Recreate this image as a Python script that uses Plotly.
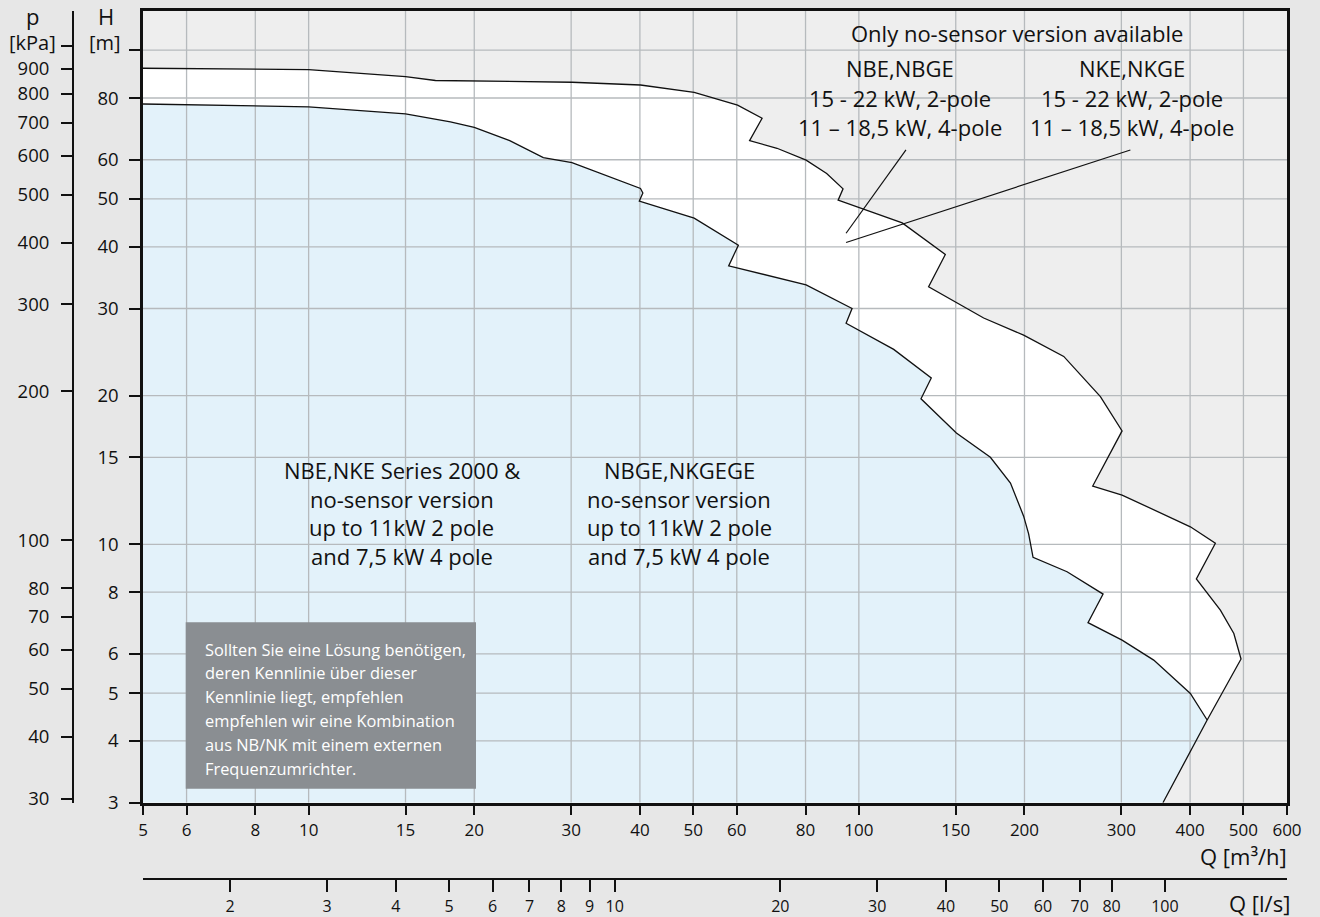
import plotly.graph_objects as go
import math

# ---------------- data ----------------
Q_RANGE = [5, 600]          # m3/h
H_RANGE = [3, 120]          # m
KPA_PER_M = 9.81
M3H_PER_LS = 3.6

Q_TICKS = [5, 6, 8, 10, 15, 20, 30, 40, 50, 60, 80, 100, 150, 200, 300, 400, 500, 600]
H_TICKS = [3, 4, 5, 6, 8, 10, 15, 20, 30, 40, 50, 60, 80, 100]
H_TICK_TEXT = ["3", "4", "5", "6", "8", "10", "15", "20", "30", "40", "50", "60", "80", ""]
P_TICKS = [30, 40, 50, 60, 70, 80, 100, 200, 300, 400, 500, 600, 700, 800, 900, 1000]
P_TICK_TEXT = ["30", "40", "50", "60", "70", "80", "100", "200", "300", "400", "500",
               "600", "700", "800", "900", ""]
QLS_TICKS = [2, 3, 4, 5, 6, 7, 8, 9, 10, 20, 30, 40, 50, 60, 70, 80, 100]
GRID_Q = [6, 8, 10, 15, 20, 30, 40, 50, 60, 80, 100, 150, 200, 300, 400, 500]
GRID_H = [4, 5, 6, 8, 10, 15, 20, 30, 40, 50, 60, 80, 100]

# outer envelope (NBE/NKE larger motors), ends at its right tip
outer_q = [5.0, 10.0, 15.0, 17.0, 30.1, 40.1, 50.2, 60.2, 66.7, 63.3, 71.0, 80.2, 87.4,
           93.6, 91.7, 119.9, 143.6, 133.9, 168.6, 199.3, 235.7, 274.8, 300.9, 266.1,
           300.9, 400.4, 444.6, 410.6, 454.0, 480.3, 495.0]
outer_h = [91.9, 91.3, 88.4, 86.8, 86.1, 85.0, 82.1, 77.4, 72.8, 65.6, 63.3, 59.9, 56.3,
           52.4, 49.7, 44.7, 38.6, 33.2, 28.7, 26.5, 24.0, 19.9, 16.96, 13.12,
           12.58, 10.85, 10.05, 8.51, 7.36, 6.60, 5.86]

# inner envelope (Series 2000 range), ends where it meets the right edge line
inner_q = [5.0, 10.0, 15.0, 18.1, 20.0, 23.2, 26.7, 30.1, 40.1, 40.5, 39.9, 50.2, 60.4,
           58.0, 80.2, 97.2, 94.8, 100.0, 115.7, 135.4, 129.7, 150.4, 173.4, 188.6,
           199.3, 203.5, 207.3, 239.0, 277.9, 260.9, 300.9, 343.5, 400.4, 429.6]
inner_h = [77.8, 76.8, 74.3, 71.6, 69.8, 65.6, 60.6, 59.2, 52.5, 51.4, 49.5, 45.7, 40.3,
           36.6, 33.5, 30.0, 28.0, 27.1, 24.8, 21.7, 19.7, 16.8, 15.0, 13.3,
           11.4, 10.5, 9.41, 8.80, 7.93, 6.94, 6.40, 5.83, 4.99, 4.41]

# straight right edge: outer tip -> meeting point -> bottom of chart
edge_q = [495.0, 429.6, 357.0]
edge_h = [5.86, 4.41, 3.0]

# leader lines of the top labels
lead_nbe_q = [121.8, 94.8]
lead_nbe_h = [62.8, 42.6]
lead_nke_q = [311.5, 94.8]
lead_nke_h = [62.8, 40.8]

TOP_TITLE = "Only no-sensor version available"
NBE_LINES = ["NBE,NBGE", "15 - 22 kW, 2-pole", "11 – 18,5 kW, 4-pole"]
NKE_LINES = ["NKE,NKGE", "15 - 22 kW, 2-pole", "11 – 18,5 kW, 4-pole"]
LEFT_LINES = ["NBE,NKE Series 2000 &", "no-sensor version", "up to 11kW 2 pole", "and 7,5 kW 4 pole"]
RIGHT_LINES = ["NBGE,NKGEGE", "no-sensor version", "up to 11kW 2 pole", "and 7,5 kW 4 pole"]
BOX_LINES = ["Sollten Sie eine Lösung benötigen,", "deren Kennlinie über dieser",
             "Kennlinie liegt, empfehlen", "empfehlen wir eine Kombination",
             "aus NB/NK mit einem externen", "Frequenzumrichter."]

# ---------------- styling ----------------
FONT = "Open Sans"
BLACK = "#111111"
GRID = "#b6babd"
BLUE = "#e3f2fa"
PAPER = "#e7e7e7"
PLOTBG = "#eeeeee"
BOXC = "#8a8e92"

W, H = 1320, 917
ML, MR, MT, MB = 73, 33, 11, 38
PW, PH = W - ML - MR, H - MT - MB
X0_PX, YB_PX = 143, 802.7        # main plot left / bottom in pixels


def paper(px, py):
    return (px - ML) / PW, (H - MB - py) / PH


xdom0 = paper(X0_PX, 0)[0]
ydom0 = paper(0, YB_PX)[1]

fig = go.Figure()

# filled regions
white_q = outer_q + edge_q[1:] + [Q_RANGE[0]]
white_h = outer_h + edge_h[1:] + [H_RANGE[0]]
fig.add_trace(go.Scatter(x=white_q, y=white_h, fill="toself", fillcolor="#ffffff",
                         mode="none", hoverinfo="skip", showlegend=False))
blue_q = inner_q + edge_q[2:] + [Q_RANGE[0]]
blue_h = inner_h + edge_h[2:] + [H_RANGE[0]]
fig.add_trace(go.Scatter(x=blue_q, y=blue_h, fill="toself", fillcolor=BLUE,
                         mode="none", hoverinfo="skip", showlegend=False))

# grid drawn above the fills
gx, gy = [], []
for q in GRID_Q:
    gx += [q, q, None]
    gy += [H_RANGE[0], H_RANGE[1], None]
for h in GRID_H:
    gx += [Q_RANGE[0], Q_RANGE[1], None]
    gy += [h, h, None]
fig.add_trace(go.Scatter(x=gx, y=gy, mode="lines", line=dict(color=GRID, width=1.3),
                         hoverinfo="skip", showlegend=False))

# curves
fig.add_trace(go.Scatter(x=outer_q + edge_q[1:], y=outer_h + edge_h[1:], mode="lines",
                         line=dict(color=BLACK, width=1.3), hoverinfo="skip", showlegend=False))
fig.add_trace(go.Scatter(x=inner_q, y=inner_h, mode="lines",
                         line=dict(color=BLACK, width=1.3), hoverinfo="skip", showlegend=False))
for lq, lh in [(lead_nbe_q, lead_nbe_h), (lead_nke_q, lead_nke_h)]:
    fig.add_trace(go.Scatter(x=lq, y=lh, mode="lines", line=dict(color=BLACK, width=1.2),
                             hoverinfo="skip", showlegend=False))

# invisible trace to activate the secondary (l/s, kPa) axes
fig.add_trace(go.Scatter(x=[Q_RANGE[0] / M3H_PER_LS, Q_RANGE[1] / M3H_PER_LS],
                         y=[H_RANGE[0] * KPA_PER_M, H_RANGE[1] * KPA_PER_M],
                         xaxis="x2", yaxis="y2", mode="markers",
                         marker=dict(opacity=0, size=1), hoverinfo="skip", showlegend=False))

tickfont_x = dict(family=FONT, size=17, color=BLACK)
tickfont_ls = dict(family=FONT, size=16, color=BLACK)
tickfont_y = dict(family=FONT, size=18.5, color=BLACK)

fig.update_layout(
    width=W, height=H,
    margin=dict(l=ML, r=MR, t=MT, b=MB, autoexpand=False),
    paper_bgcolor=PAPER, plot_bgcolor=PLOTBG,
    showlegend=False,
    xaxis=dict(type="log", range=[math.log10(Q_RANGE[0]), math.log10(Q_RANGE[1])],
               domain=[xdom0, 1], anchor="y",
               tickvals=Q_TICKS, ticktext=[str(v) for v in Q_TICKS],
               ticks="outside", ticklen=10, tickwidth=1.5, tickcolor=BLACK,
               showgrid=False, zeroline=False, showline=True, linecolor=BLACK,
               linewidth=2.5, mirror=True, tickfont=tickfont_x, ticklabelstandoff=0),
    yaxis=dict(type="log", range=[math.log10(H_RANGE[0]), math.log10(H_RANGE[1])],
               domain=[ydom0, 1], anchor="x",
               tickvals=H_TICKS, ticktext=H_TICK_TEXT,
               ticks="outside", ticklen=11, tickwidth=1.5, tickcolor=BLACK,
               showgrid=False, zeroline=False, showline=True, linecolor=BLACK,
               linewidth=2.5, mirror=True, tickfont=tickfont_y, ticklabelstandoff=7),
    xaxis2=dict(type="log", overlaying="x", anchor="free", position=0, side="bottom",
                range=[math.log10(Q_RANGE[0] / M3H_PER_LS), math.log10(Q_RANGE[1] / M3H_PER_LS)],
                tickvals=QLS_TICKS, ticktext=[str(v) for v in QLS_TICKS],
                ticks="outside", ticklen=12, tickwidth=1.5, tickcolor=BLACK,
                showgrid=False, zeroline=False, showline=True, linecolor=BLACK,
                linewidth=2, tickfont=tickfont_ls, ticklabelstandoff=1),
    yaxis2=dict(type="log", overlaying="y", anchor="free", position=0, side="left",
                range=[math.log10(H_RANGE[0] * KPA_PER_M), math.log10(H_RANGE[1] * KPA_PER_M)],
                tickvals=P_TICKS, ticktext=P_TICK_TEXT,
                ticks="outside", ticklen=11, tickwidth=1.5, tickcolor=BLACK,
                showgrid=False, zeroline=False, showline=True, linecolor=BLACK,
                linewidth=2, tickfont=tickfont_y, ticklabelstandoff=8),
)

# grey info box
bx0, by0 = paper(185.7, 788.7)
bx1, by1 = paper(476, 622.3)
fig.add_shape(type="rect", xref="paper", yref="paper", x0=bx0, y0=by0, x1=bx1, y1=by1,
              fillcolor=BOXC, line=dict(width=0), layer="above")

annos = []


def txt(text, px, py, size, xanchor="center", color=BLACK):
    x, y = paper(px, py)
    annos.append(dict(text=text, x=x, y=y, xref="paper", yref="paper", showarrow=False,
                      xanchor=xanchor, yanchor="middle",
                      font=dict(family=FONT, size=size, color=color)))


txt(TOP_TITLE, 1016.5, 32.7, 22)
for i, line in enumerate(NBE_LINES):
    txt(line, 900, 68 + 29.5 * i, 22)
for i, line in enumerate(NKE_LINES):
    txt(line, 1132, 68 + 29.5 * i, 22)
for i, line in enumerate(LEFT_LINES):
    txt(line, 402, 470 + 28.5 * i, 22)
for i, line in enumerate(RIGHT_LINES):
    txt(line, 679, 470 + 28.5 * i, 22)
for i, line in enumerate(BOX_LINES):
    txt(line, 202.7, 649 + 23.9 * i, 16.4, xanchor="left", color="#ffffff")

txt("p", 32.5, 16, 22)
txt("[kPa]", 32, 43, 20)
txt("H", 105.7, 16, 22)
txt("[m]", 105, 43, 20)
txt("Q [m³/h]", 1289, 856, 22, xanchor="right")
txt("Q [l/s]", 1292, 903, 22, xanchor="right")

fig.update_layout(annotations=annos)

page_fix = ("document.body.style.margin='0px';"
            "document.body.style.overflow='hidden';"
            "document.body.style.background='" + PAPER + "';")
fig.write_html("out.html", post_script=page_fix, config={"displayModeBar": False})
